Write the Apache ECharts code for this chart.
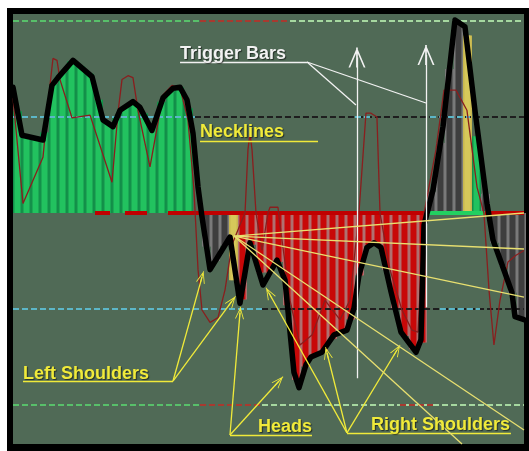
<!DOCTYPE html>
<html><head><meta charset="utf-8">
<script src="https://cdn.jsdelivr.net/npm/echarts@6/dist/echarts.min.js"></script>
<style>
html,body{margin:0;padding:0;background:#fff;width:529px;height:451px;overflow:hidden}
#frame{position:absolute;left:7px;top:8px;width:522px;height:443px;background:#000}
#chart{position:absolute;left:0;top:0;width:529px;height:451px}
</style></head><body>
<div id="frame"></div><div id="chart"></div>
<script>
// ---- data (x in bar units, y in neckline units; 0 = zero line) ----
const barValues = [1.06,0.79,0.77,0.84,1.34,1.46,1.58,1.53,1.45,1.18,
  0.94,0.99,1.11,1.14,1.04,0.89,1.16,1.28,1.31,1.09,
  null,-0.35,-0.5,-0.34,-0.7,-0.9,-0.33,-0.62,-0.62,-0.51,
  -0.96,-1.74,-1.6,-1.48,-1.44,-1.31,-1.24,-1.11,-0.65,-0.34,
  -0.33,-0.59,-1.01,-1.28,-1.42,-1.35,0.22,0.73,1.5,1.99,
  1.85,0.8,0.2,-0.31,-0.55,-0.83,-1.1];
const barState = ['up','up','up','up','up','up','up','up','up','up',
  'up','up','up','up','up','up','up','up','up','up',
  null,'flat','flat','flat','trigger','down','down','down','down','down',
  'down','down','down','down','down','down','down','down','down','down',
  'down','down','down','down','down','down','flat','flat','flat','flat',
  'trigger','up','flat','flat','flat','flat','flat'];
const thickLine = [[0,1.31],[1.0,0.81],[3.33,0.76],[4.33,1.33],[5.0,1.41],[6.67,1.59],[8.78,1.42],
  [10.0,0.97],[11.11,0.90],[11.89,1.07],[13.33,1.16],[14.11,1.10],[15.44,0.86],[16.67,1.20],
  [17.78,1.30],[18.56,1.31],[19.33,1.18],[20.0,0.83],[20.56,0.27],[21.0,-0.04],[21.89,-0.59],
  [24.11,-0.25],[25.22,-0.94],[26.33,-0.31],[27.78,-0.75],[29.33,-0.49],[30.22,-0.70],
  [31.22,-1.66],[31.78,-1.82],[32.56,-1.58],[33.11,-1.50],[34.33,-1.45],[35.67,-1.27],
  [37.11,-1.22],[37.89,-0.99],[38.44,-0.65],[39.33,-0.36],[40.11,-0.31],[40.89,-0.36],
  [42.0,-0.82],[43.11,-1.24],[44.78,-1.45],[45.33,-1.32],[45.67,-0.125],[46.67,0.24],
  [47.78,0.90],[49.11,2.01],[50.22,1.94],[51.33,1.07],[52.67,0.10],[53.33,-0.28],
  [54.67,-0.625],[55.44,-0.83],[55.78,-1.08],[56.78,-1.11]];
const thinLine = [[0,1.20],[1.11,0.10],[3.33,0.58],[4.11,1.33],[4.44,1.61],[4.89,1.59],[5.22,1.39],
  [6.56,0.99],[8.56,1.02],[11.0,0.32],[11.67,1.05],[12.11,1.39],[12.78,1.43],[13.33,1.41],
  [13.89,1.07],[15.22,0.48],[16.67,1.23],[17.67,1.33],[18.56,1.30],[19.44,0.97],[20.11,0.24],
  [20.56,-0.59],[21.0,-1.01],[21.89,-1.14],[22.78,-1.09],[23.56,-0.80],[24.33,-0.33],
  [25.22,-0.125],[25.78,0],[26.11,0.66],[26.33,0.83],[26.56,0.66],[27.0,0],[27.67,-0.39],
  [28.33,0],[28.56,0.06],[29.44,0.06],[29.67,-0.125],[30.78,-0.91],[31.89,-1.375],
  [33.22,-1.27],[34.67,-0.91],[36.33,-1.11],[37.44,-0.91],[38.44,0],[39.22,1.04],
  [39.78,1.04],[40.44,1.0],[40.78,0],[41.89,-0.59],[43.22,-1.01],[44.33,-1.22],[45.0,-1.24],
  [45.67,0],[47.0,0.66],[47.89,1.28],[49.22,1.28],[50.44,1.07],[51.56,0.27],[52.33,0],
  [52.89,-0.80],[53.44,-1.375],[54.11,-0.91],[55.0,-0.51],[55.89,-0.44],[56.78,-0.39]];
// level lines: [level, x0, x1, colourKey]
const levelSegments = [
  [2,0,20.78,'g'],[2,20.78,30.78,'r'],[2,30.78,56.78,'w'],
  [1,0,20.22,'c'],[1,20.22,56.78,'k'],[1,38.0,39.89,'c'],[1,46.33,50.78,'c'],
  [-1,0,27.67,'c'],[-1,27.67,56.78,'k'],[-1,47.44,51.89,'c'],
  [-2,0,20.78,'g'],[-2,20.78,27.67,'r'],[-2,27.67,56.78,'w'],[-2,43.0,47.0,'r']
];
const zeroSegments = [[9.11,10.78,'r'],[12.44,14.89,'r'],[17.22,46.11,'r'],[46.11,52.44,'g'],[52.44,56.78,'r']];
// annotations
const triggerUnderline = [[18.56,1.573],[32.67,1.573]];
const triggerPointers = [[38.11,1.125],[45.89,1.146]];
const triggerArrows = [[38.22,-1.72,1.62],[45.89,-0.98,1.646]];
const necklineUnderline = [[20.78,0.75],[33.89,0.75]];
const leftShUnderline = [[1.11,-1.75],[17.78,-1.75]];
const leftShTargets = [[21.0,-0.667],[24.33,-0.917]];
const headsUnderline = [[24.11,-2.3125],[33.22,-2.3125]];
const headsTargets = [[25.22,-1.04],[29.56,-1.75]];
const rightShUnderline = [[37.11,-2.29],[55.33,-2.29]];
const rightShTargets = [[28.44,-0.833],[34.89,-1.458],[42.67,-1.427]];
const fanOrigin = [24.56,-0.24];
const fanTargets = [[56.78,0],[56.78,-0.375],[56.78,-0.875],[49.89,-2.406],[56.78,-2.26]];

// ---- styles ----
const stateColors = {
  up:['#14904a','#22c25f'], down:['#b07070','#c80808'], flat:['#7a7a7a','#3e3e3e'], trigger:['#c8b850','#d6c85a']
};
const levelColors = {g:'#58c06a', r:'#a83a30', w:'#a6d8a0', c:'#5cb6c8', k:'#1e1e1e'};
const YEL = '#f0ea3a', WHT = '#f2f2f2';
const chevron = 'path://M10,0 L20,20 L18,20 L10,4 L2,20 L0,20 Z M9,0 L11,0 L11,20 L9,20 Z';

const baseBars = [], topBars = [];
barValues.forEach((v,i) => {
  if (v == null || !barState[i]) return;
  const c = stateColors[barState[i]];
  baseBars.push({value:[i+0.5, v], itemStyle:{color:c[0]}});
  topBars.push({value:[i+0.5, v], itemStyle:{color:c[1]}});
});

const series = [
  {type:'bar', xAxisIndex:0, yAxisIndex:0, data:baseBars, barWidth:9, z:1, silent:true},
  {type:'bar', xAxisIndex:1, yAxisIndex:0, data:topBars, barWidth:6, z:2, silent:true}
];
levelSegments.forEach(s => series.push({
  type:'line', data:[[s[1],s[0]],[s[2],s[0]]], showSymbol:false, silent:true, z:3,
  lineStyle:{color:levelColors[s[3]], width:2, type:[6,3]}
}));
zeroSegments.forEach(s => series.push({
  type:'line', data:[[s[0],0],[s[1],0]], showSymbol:false, silent:true, z:3,
  lineStyle:{color: s[2]==='g' ? '#22d060' : '#c00000', width:4}
}));
series.push({type:'line', data:thinLine, showSymbol:false, silent:true, z:4,
  lineStyle:{color:'#8a1e1e', width:1.3}});
series.push({type:'line', data:thickLine, showSymbol:false, silent:true, z:5,
  lineStyle:{color:'#000', width:5.5, join:'round', cap:'round'}});

function seg(a, b, color, head, size) {
  return [
    {coord:a, symbol:'none', lineStyle:{color:color, width:1.3, type:'solid'}},
    {coord:b, symbol: head ? chevron : 'none', symbolSize: size || [9,12]}
  ];
}
const ml = [];
ml.push(seg(triggerUnderline[0], triggerUnderline[1], WHT));
triggerPointers.forEach(t => ml.push(seg(triggerUnderline[1], t, WHT)));
triggerArrows.forEach(t => ml.push(seg([t[0],t[1]],[t[0],t[2]], WHT, true, [17,20])));
ml.push(seg(necklineUnderline[0], necklineUnderline[1], YEL));
ml.push(seg(leftShUnderline[0], leftShUnderline[1], YEL));
leftShTargets.forEach(t => ml.push(seg(leftShUnderline[1], t, YEL, true)));
ml.push(seg(headsUnderline[0], headsUnderline[1], YEL));
headsTargets.forEach(t => ml.push(seg(headsUnderline[0], t, YEL, true)));
ml.push(seg(rightShUnderline[0], rightShUnderline[1], YEL));
rightShTargets.forEach(t => ml.push(seg(rightShUnderline[0], t, YEL, true)));
fanTargets.forEach(t => ml.push(seg(fanOrigin, t, '#e8e070')));

series.push({type:'line', data:[], z:6, silent:true,
  markLine:{silent:true, animation:false, label:{show:false}, symbol:'none', data:ml, z:6}});

const font = 'bold 18px "Liberation Sans", Arial, sans-serif';
function label(text, x, baseline, color) {
  return {type:'text', x:x, y:baseline - 6.2, z:100,
    style:{text:text, font:font, fill:color, verticalAlign:'middle', align:'left',
      textShadowColor:'rgba(0,0,0,0.55)', textShadowOffsetX:1, textShadowOffsetY:1, textShadowBlur:1}};
}

const chart = echarts.init(document.getElementById('chart'), null, {renderer:'canvas'});
chart.setOption({
  animation:false,
  backgroundColor:'transparent',
  grid:{left:13, top:14, width:511, height:430, show:true, backgroundColor:'#506a56', borderWidth:0},
  xAxis:[
    {type:'value', min:0, max:56.78, show:false},
    {type:'value', min:0, max:56.78, show:false}
  ],
  yAxis:{type:'value', min:-2.406, max:2.073, show:false},
  series:series,
  graphic:[
    label('Trigger Bars', 180, 60, WHT),
    label('Necklines', 200, 138, YEL),
    label('Left Shoulders', 23, 380, YEL),
    label('Heads', 258, 433, YEL),
    label('Right Shoulders', 371, 431, YEL)
  ]
});
</script></body></html>
